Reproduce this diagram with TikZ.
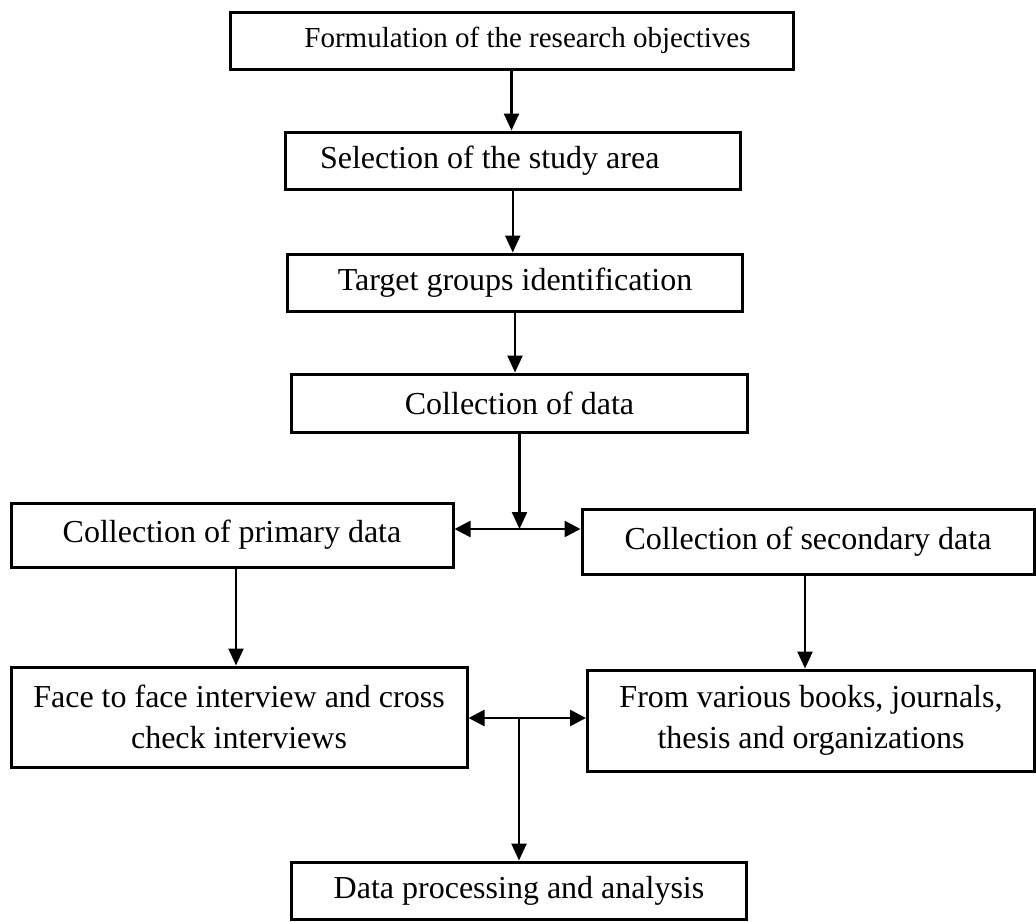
\documentclass[tikz,border=0pt]{standalone}
\usepackage{fontspec}
\setmainfont{Liberation Serif}
\usetikzlibrary{arrows.meta}
\begin{document}
\begin{tikzpicture}[x=1pt,y=-1pt,
  box/.style={draw, line width=3pt, inner sep=0pt, align=center, font=\fontsize{32}{41}\selectfont},
  arr/.style={line width=2.4pt, -{Triangle[length=17pt,width=15pt]}},
  dbl/.style={line width=2.6pt, {Triangle[length=16pt,width=16pt]}-{Triangle[length=16pt,width=16pt]}}]
\useasboundingbox (0,0) rectangle (1036,921);
\node[box, minimum width=563pt, minimum height=57pt, font=\fontsize{29}{36}\selectfont] (b1) at (511.5,40.5) {\hspace*{32pt}Formulation of the research objectives};
\node[box, minimum width=454.5pt, minimum height=57pt] (b2) at (512.75,160.5) {Selection of the study area\hspace*{46pt}};
\node[box, minimum width=455.5pt, minimum height=57pt] (b3) at (515,282.5) {Target groups identification};
\node[box, minimum width=455.5pt, minimum height=58pt] (b4) at (519.5,403) {Collection of data};
\node[box, minimum width=442pt, minimum height=64pt] (b5) at (232,535) {Collection of primary data};
\node[box, minimum width=452pt, minimum height=65pt] (b6) at (808,541.5) {Collection of secondary data};
\node[box, minimum width=456pt, minimum height=100pt] (b7) at (239,717) {Face to face interview and cross\\check interviews};
\node[box, minimum width=447pt, minimum height=101pt] (b8) at (811,720.5) {From various books, journals,\\thesis and organizations};
\node[box, minimum width=455.5pt, minimum height=57pt] (b9) at (519,890.5) {Data processing and analysis};
\draw[arr] (b1.south) -- (b1.south |- b2.north);
\draw[arr] (b2.south) -- (b2.south |- b3.north);
\draw[arr] (b3.south) -- (b3.south |- b4.north);
\coordinate (j1) at (519.5,529);
\draw[arr] (b4.south) -- (j1);
\draw[dbl] (j1 -| b5.east) -- (j1 -| b6.west);
\draw[arr] ([xshift=4pt]b5.south) -- ([xshift=4pt]b5.south |- b7.north);
\draw[arr] ([xshift=-3pt]b6.south) -- ([xshift=-3pt]b6.south |- b8.north);
\coordinate (j2) at (519,718);
\draw[dbl] (j2 -| b7.east) -- (j2 -| b8.west);
\draw[arr] (j2) -- (j2 |- b9.north);
\end{tikzpicture}
\end{document}
